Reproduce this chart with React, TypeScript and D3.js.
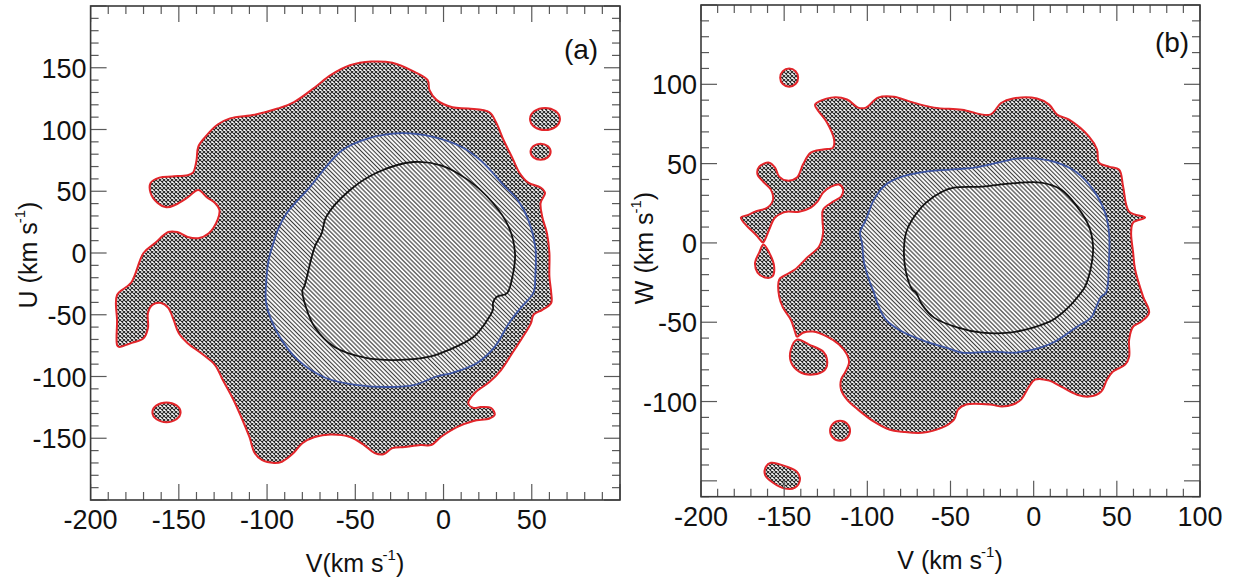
import React from 'react';
import * as d3 from 'd3';

type P = [number, number];

// ---------- Panel (a): V vs U ----------
const aOuter: P[] = [
  [-185, -34], [-177, -24], [-170, 0], [-163.5, 8], [-156, 17], [-151, 17], [-145, 13], [-139, 12],
  [-133, 16], [-128, 27], [-127, 35], [-129.5, 40.5], [-134, 45], [-139, 51], [-145, 45], [-152, 39],
  [-157, 37], [-162, 40.5], [-166, 48.6], [-166, 56.7], [-161, 61], [-154, 62], [-145, 63], [-142, 65],
  [-140, 75], [-139, 86], [-135, 94], [-128, 104], [-121, 109], [-107, 112], [-94, 117], [-85, 122],
  [-73, 134], [-64, 144], [-53, 152], [-41, 155], [-29, 154], [-17, 147], [-9, 140], [-8, 132],
  [-4, 124], [5, 118], [14, 117], [26, 114], [30, 105], [34, 91.5], [39, 77], [43, 65], [48, 57],
  [55, 53], [57.5, 48.6], [55, 40.5], [56, 29], [58.6, 16], [60, 0], [60, -19], [61, -32], [61, -40.5],
  [56, -46], [51, -50], [49.5, -57], [44, -70], [39, -81], [32.5, -95], [26, -104.5], [18, -113],
  [14, -121.5], [17, -125.5], [21, -124.7], [27, -125.5], [29, -131], [26, -134], [17, -136],
  [7.6, -141], [-1.5, -149], [-7, -155.5], [-13, -155.5], [-22, -157], [-29, -158], [-34, -163],
  [-39, -162], [-45, -155.5], [-53, -149], [-64, -147], [-73, -149], [-80, -154], [-85, -162],
  [-91.6, -169], [-96, -170], [-103, -167.6], [-107, -162], [-110, -149], [-114, -135], [-119, -119],
  [-125, -103], [-129.5, -90.7], [-136, -82.6], [-145, -73], [-150, -65], [-153, -54], [-156, -44.5],
  [-160, -40.5], [-165, -42], [-167.5, -48.6], [-167.5, -60.7], [-170, -69], [-177, -73], [-184, -76],
  [-185, -74.5], [-185, -55],
];
// islands: [centre V, centre U, radius V, radius U]
const aIslands: [number, number, number, number][] = [
  [57.5, 108.5, 8.5, 9],
  [55, 82, 5.7, 6.5],
  [-157, -129, 8, 8],
];
const aBlue: P[] = [
  [-94, 18.6], [-89, 32], [-76, 53], [-57.6, 83], [-42, 93], [-24, 97], [-6, 94], [10, 86], [21, 75],
  [30, 61.5], [34, 55], [42, 43], [48, 27], [52, 5], [52, -19], [51, -32], [44, -44], [37, -57],
  [29, -76], [19, -89], [5, -97], [-4, -100], [-17, -107], [-31, -108.5], [-48.5, -107], [-67, -101],
  [-82.5, -86.6], [-94, -65], [-100.5, -40.5], [-100.5, -24], [-99, -5], [-96, 10],
];
const aBlack: P[] = [
  [-79, -27.5], [-73, 5], [-69, 16], [-66.6, 29], [-53, 51], [-37, 65.6], [-17, 73.7], [-1.5, 71],
  [14, 59], [28, 40.5], [37, 21], [40.5, 0], [39, -19.4], [36, -32.4], [30, -35.6], [28, -40.5],
  [28, -46], [23.5, -57], [17, -68], [3, -78.5], [-8, -84], [-24, -86.6], [-44, -85], [-62, -76],
  [-73, -60], [-78, -43.7], [-80, -30],
];

// ---------- Panel (b): V vs W ----------
const bOuter: P[] = [
  [-131.4, 87.2], [-121.8, 91.6], [-112.2, 90.4], [-105.6, 85.3], [-100.8, 85.3], [-93.6, 91.6],
  [-84, 92.2], [-74.3, 89.1], [-59.9, 85.3], [-43.1, 84], [-26.2, 80.9], [-19.6, 88.2], [-12.4, 91],
  [2, 91], [9.3, 87.2], [14.1, 80.9], [21.3, 77.7], [33.3, 67], [38.1, 58.9], [39.3, 50.6],
  [45.3, 48.1], [51.4, 46.2], [53.8, 35.5], [57.4, 19.7], [67, 16], [59.8, 12.8], [58.6, 6.5],
  [59.8, -6.1], [61, -16.8], [65.8, -33.9], [69.4, -44], [64.6, -49.7], [59.8, -52.8], [57.4, -61],
  [57.4, -71.7], [55, -76.7], [47.7, -81.1], [44.1, -86.2], [40.5, -93.8], [33.3, -96.9],
  [26.1, -95.7], [16.5, -90.6], [9.3, -86.8], [0.8, -86.2], [-2.8, -90.6], [-7.6, -98.8],
  [-12.4, -101.9], [-19, -103.2], [-26.2, -101.9], [-40.6, -101.9], [-45.5, -105.1], [-47.9, -111.4],
  [-55.1, -116.5], [-67.1, -119.7], [-79.1, -119], [-86.4, -117.8], [-96, -112.7], [-105.6, -105.1],
  [-112.2, -98.8], [-115.8, -92.5], [-115.8, -86.2], [-113.4, -81.7], [-111, -75.5], [-112.2, -70.4],
  [-117, -64.1], [-124.2, -59.1], [-132.7, -55.9], [-138.7, -56.6], [-142.3, -59.1], [-143.5, -55.9],
  [-146, -48.4], [-150.7, -40.8], [-153, -33.9], [-153, -23.1], [-150.7, -21.1], [-143.5, -16.8],
  [-136.3, -9.3], [-129, -2.3], [-126.6, 6.5], [-127, 14.7], [-126.6, 21], [-120.6, 26],
  [-115.8, 29.2], [-114.6, 33.6], [-117, 36.8], [-121.8, 35.5], [-126.6, 31.7], [-130, 26],
  [-134, 22.3], [-141, 19.7], [-148.3, 19.7], [-150.7, 19.1], [-155.5, 16], [-159, 8.4],
  [-161.5, 2.1], [-162.7, 0.2], [-166, 4], [-176, 16], [-172, 17.5], [-167.5, 19.7], [-160, 22.3],
  [-156.7, 27.3], [-158, 33.6], [-162.7, 38.7], [-166, 43], [-165, 48.1], [-159, 50.6],
  [-155.5, 47.5], [-153, 41.8], [-148.3, 39.3], [-142.3, 41.2], [-138.7, 49.4], [-134, 56.9],
  [-126.6, 58.9], [-120.6, 60.1], [-120, 65.1], [-124.2, 75.8], [-130, 84],
];
const bTear: P[] = [
  [-162.5, -1], [-159, -6.1], [-156, -15], [-157, -21.1], [-161.5, -21.8], [-166, -18.7],
  [-167.5, -12.4], [-165, -6.1],
];
const bIslandMid: P[] = [
  [-142.3, -61], [-135, -64.1], [-126.6, -68.5], [-124.2, -73.6], [-125.4, -79.9], [-132.7, -83],
  [-141, -81.1], [-146, -74.8], [-146, -67.3],
];
const bIslandLow: P[] = [
  [-158, -138.6], [-148.3, -141.1], [-142.3, -144.3], [-140.5, -149.3], [-143.5, -154.3],
  [-149.5, -154.9], [-156.7, -151.2], [-161.5, -146.2], [-161, -141.1],
];
const bIslands: [number, number, number, number][] = [
  [-147, 104.2, 5.4, 5.7],
  [-116.4, -118.4, 6, 6.3],
];
const bBlue: P[] = [
  [-103.2, 0.2], [-104.4, 6.5], [-100.8, 14.7], [-96, 27.3], [-88.8, 36.8], [-79.1, 41.8],
  [-64.7, 44.9], [-50.3, 46.2], [-35.8, 47.5], [-21.4, 50.6], [-10, 53.2], [2, 53.2], [14.1, 50.6],
  [26.1, 44.3], [35.7, 33.6], [42.9, 19.1], [45.3, 6.5], [45.3, -10.5], [43.5, -31.3], [40.5, -33.9],
  [36.9, -42.1], [34.5, -47.1], [26.1, -52.8], [11.7, -62.8], [-0.4, -67.3], [-12.4, -69.2],
  [-23.8, -68.5], [-35.8, -69.2], [-43.1, -69.2], [-52.7, -66], [-64.7, -62.2], [-79.1, -55.9],
  [-88.8, -48.4], [-93.6, -38.9], [-96, -31.3], [-98.4, -25], [-102, -12.4],
];
const bBlack: P[] = [
  [-78, -6.1], [-76.7, 6.5], [-73, 14.7], [-64.7, 25.4], [-55.1, 32.3], [-47.9, 34.9], [-31, 35.5],
  [-14.8, 37.4], [4.4, 38], [16.5, 33.6], [26.1, 22.9], [33.3, 10.3], [35.7, -2.3], [34.5, -15],
  [30.9, -27.5], [28.5, -31.3], [21.3, -40.2], [11.7, -48.4], [-0.4, -53.4], [-14.8, -56.6],
  [-31, -56.6], [-45.5, -53.4], [-59.9, -47.1], [-67.1, -38.9], [-70.7, -31.3], [-73, -29.4],
  [-76.7, -18.7],
];

const xTicksLabel = [-200, -150, -100, -50, 0, 50, 100];
const aYTicks = [-150, -100, -50, 0, 50, 100, 150];
const bYTicks = [-100, -50, 0, 50, 100];

const FONT = '"Liberation Sans", Arial, Helvetica, sans-serif';
const RED = '#e3262b';
const BLUE = '#3c55a5';
const BLACK = '#111111';

type PanelProps = {
  id: string;
  x0: number; x1: number; y0: number; y1: number;
  xDomain: [number, number]; yDomain: [number, number];
  yLabels: number[]; xLabels: number[];
  outer: P[]; extraPolys: P[][]; islands: [number, number, number, number][];
  blue: P[]; black: P[];
  yTitle: string; xTitle: string; xTitleX: number; xTitleY: number; yTitleX: number; yTitleY: number;
  tag: string; tagX: number; tagY: number;
};

function Panel(p: PanelProps) {
  const x = d3.scaleLinear().domain(p.xDomain).range([p.x0, p.x1]);
  const y = d3.scaleLinear().domain(p.yDomain).range([p.y1, p.y0]);
  const line = d3
    .line<P>()
    .x((d) => x(d[0]))
    .y((d) => y(d[1]))
    .curve(d3.curveCatmullRomClosed.alpha(0.5));

  const minorX = d3.range(p.xDomain[0], p.xDomain[1] + 0.1, 10);
  const minorY = d3.range(Math.ceil(p.yDomain[0] / 10) * 10, p.yDomain[1] + 0.1, 10);
  const isMajor = (v: number) => Math.abs(v % 50) < 1e-6;
  const TM = 16;
  const Tm = 8;
  const tickColor = '#5a5a5a';

  return (
    <g>
      <defs>
        <clipPath id={`clip-${p.id}`}>
          <rect x={p.x0} y={p.y0} width={p.x1 - p.x0} height={p.y1 - p.y0} />
        </clipPath>
      </defs>
      <g clipPath={`url(#clip-${p.id})`}>
        <path d={line(p.outer) || ''} fill="url(#cross)" stroke={RED} strokeWidth={2} />
        {p.extraPolys.map((poly, i) => (
          <path key={i} d={line(poly) || ''} fill="url(#cross)" stroke={RED} strokeWidth={2} />
        ))}
        {p.islands.map((c, i) => (
          <ellipse
            key={i}
            cx={x(c[0])}
            cy={y(c[1])}
            rx={Math.abs(x(c[0] + c[2]) - x(c[0]))}
            ry={Math.abs(y(c[1] + c[3]) - y(c[1]))}
            fill="url(#cross)"
            stroke={RED}
            strokeWidth={2}
          />
        ))}
        <path d={line(p.blue) || ''} fill="url(#hatchA)" stroke={BLUE} strokeWidth={1.8} />
        <path d={line(p.black) || ''} fill="url(#hatchB)" stroke={BLACK} strokeWidth={1.8} />
      </g>
      {minorX.map((v) => {
        const L = isMajor(v) ? TM : Tm;
        return (
          <g key={`tx${v}`} stroke={tickColor} strokeWidth={1.2}>
            <line x1={x(v)} x2={x(v)} y1={p.y1} y2={p.y1 - L} />
            <line x1={x(v)} x2={x(v)} y1={p.y0} y2={p.y0 + L} />
          </g>
        );
      })}
      {minorY.map((v) => {
        const L = isMajor(v) ? TM : Tm;
        return (
          <g key={`ty${v}`} stroke={tickColor} strokeWidth={1.2}>
            <line x1={p.x0} x2={p.x0 + L} y1={y(v)} y2={y(v)} />
            <line x1={p.x1} x2={p.x1 - L} y1={y(v)} y2={y(v)} />
          </g>
        );
      })}
      <rect x={p.x0} y={p.y0} width={p.x1 - p.x0} height={p.y1 - p.y0} fill="none" stroke="#3a3a3a" strokeWidth={1.6} />
      {p.xLabels.map((v) => (
        <text key={`lx${v}`} x={x(v)} y={p.y1 + 29} textAnchor="middle" fontSize={27} fontFamily={FONT} fill="#111">
          {v}
        </text>
      ))}
      {p.yLabels.map((v) => (
        <text key={`ly${v}`} x={p.x0 - 4} y={y(v) + 10} textAnchor="end" fontSize={27} fontFamily={FONT} fill="#111">
          {v}
        </text>
      ))}
      <text x={p.xTitleX} y={p.xTitleY} textAnchor="middle" fontSize={25} fontFamily={FONT} fill="#111">
        {p.xTitle}(km s<tspan dx={-1} dy={-12} fontSize={15}>-1</tspan>
        <tspan dy={12}>)</tspan>
      </text>
      <text
        transform={`translate(${p.yTitleX},${p.yTitleY}) rotate(-90)`}
        textAnchor="middle"
        fontSize={25}
        fontFamily={FONT}
        fill="#111"
      >
        {p.yTitle} (km s<tspan dx={-1} dy={-12} fontSize={15}>-1</tspan>
        <tspan dy={12}>)</tspan>
      </text>
      <text x={p.tagX} y={p.tagY} textAnchor="middle" fontSize={28} fontFamily={FONT} fill="#111">
        {p.tag}
      </text>
    </g>
  );
}

export default function App() {
  return (
    <svg
      width={1236}
      height={582}
      viewBox="0 0 1236 582"
      style={{ position: 'absolute', left: 0, top: 0, display: 'block', background: '#fff' }}
    >
      <defs>
        <pattern id="cross" width={4} height={4} patternUnits="userSpaceOnUse">
          <rect width={4} height={4} fill="#fff" />
          <path d="M0,0L4,4M4,0L0,4" stroke="#262626" strokeWidth={1.1} />
        </pattern>
        <pattern id="hatchA" width={3} height={10} patternUnits="userSpaceOnUse" patternTransform="rotate(-45)">
          <rect width={3} height={10} fill="#fff" />
          <line x1={1.5} y1={-1} x2={1.5} y2={11} stroke="#3a3a3a" strokeWidth={1.1} />
        </pattern>
        <pattern id="hatchB" width={3.1} height={10} patternUnits="userSpaceOnUse" patternTransform="rotate(-45)">
          <rect width={3.1} height={10} fill="#fff" />
          <line x1={1.55} y1={-1} x2={1.55} y2={11} stroke="#3a3a3a" strokeWidth={1.1} />
        </pattern>
      </defs>
      <Panel
        id="a"
        x0={90.6} x1={620} y0={6} y1={500}
        xDomain={[-200, 100]} yDomain={[-200, 200]}
        xLabels={xTicksLabel.filter((v) => v < 100)}
        yLabels={aYTicks}
        outer={aOuter} extraPolys={[]} islands={aIslands}
        blue={aBlue} black={aBlack}
        xTitle="V" yTitle="U"
        xTitleX={355} xTitleY={572} yTitleX={37} yTitleY={255}
        tag="(a)" tagX={581} tagY={59}
      />
      <Panel
        id="b"
        x0={701} x1={1200} y0={5} y1={496.7}
        xDomain={[-200, 100]} yDomain={[-160, 150]}
        xLabels={xTicksLabel}
        yLabels={bYTicks}
        outer={bOuter} extraPolys={[bTear, bIslandMid, bIslandLow]} islands={bIslands}
        blue={bBlue} black={bBlack}
        xTitle="V " yTitle="W"
        xTitleX={950} xTitleY={569} yTitleX={653} yTitleY={248}
        tag="(b)" tagX={1172} tagY={52}
      />
    </svg>
  );
}
